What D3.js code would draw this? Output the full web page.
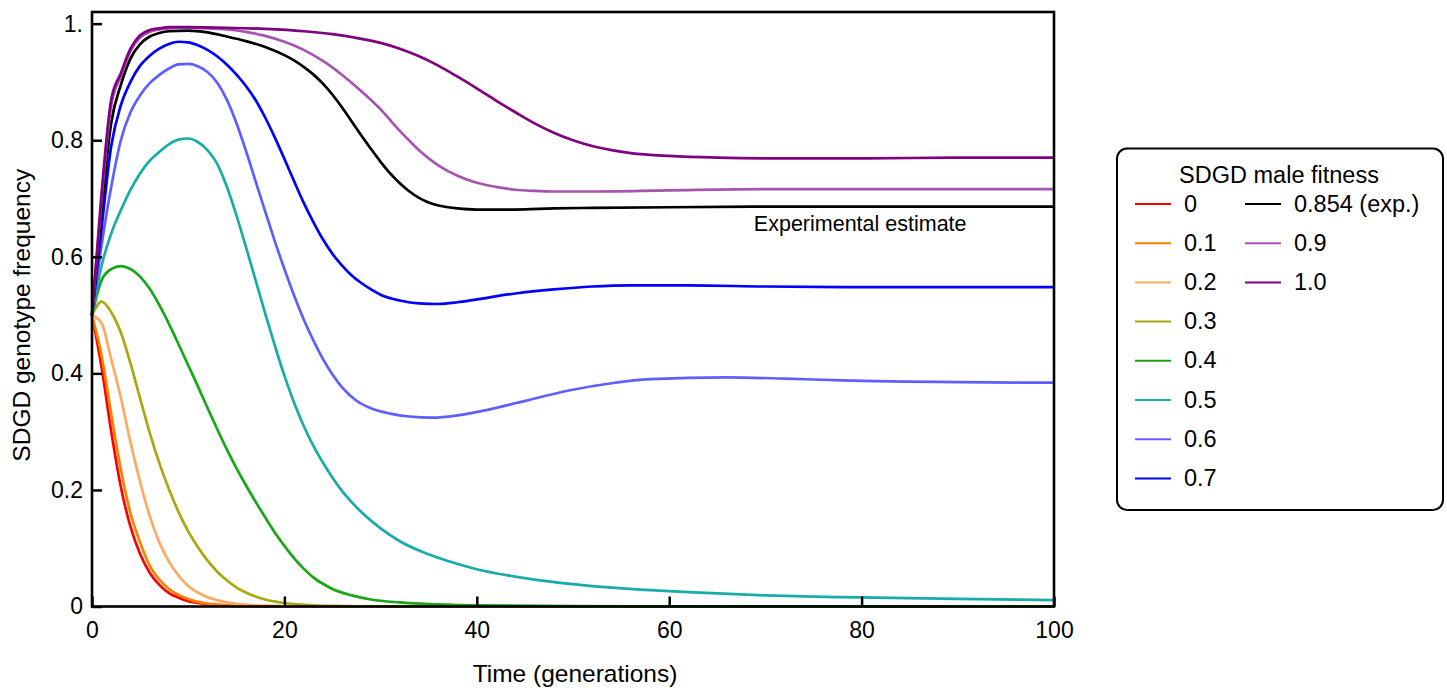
<!DOCTYPE html>
<html>
<head>
<meta charset="utf-8">
<script src="https://cdn.jsdelivr.net/npm/d3@7"></script>
<style>
  html, body { margin: 0; padding: 0; background: #fff; }
  svg { display: block; font-family: "Liberation Sans", Arial, sans-serif; }
</style>
</head>
<body>
<svg id="chart" width="1447" height="692"></svg>
<script>
// SDGD genotype frequency over time, one series per SDGD male fitness value.
// Each series is a list of [generation, frequency] pairs.
const fit0 = [[0,.5],[1,.41],[2,.30],[3,.205],[4,.137],[5,.09],[6,.058],[7,.037],[8,.023],[9,.015],[10,.009],[11,.006],[12,.004],[14,.0015],[16,.0006],[20,.0001],[30,0],[100,0]];
const fit01 = [[0,.5],[1,.43],[2,.33],[3,.235],[4,.16],[5,.11],[6,.07],[7,.046],[8,.03],[9,.02],[10,.013],[11,.008],[12,.005],[14,.002],[16,.001],[20,.0002],[30,0],[100,0]];
const fit02 = [[0,.5],[1,.486],[2,.424],[3,.358],[4,.282],[5,.214],[6,.155],[7,.11],[8,.077],[9,.053],[10,.035],[11,.024],[12,.016],[13,.011],[14,.007],[16,.003],[18,.0015],[20,.0007],[25,.0001],[30,0],[100,0]];
const fit03 = [[0,.5],[1,.523],[2,.505],[3,.47],[4,.417],[5,.357],[6,.298],[7,.246],[8,.201],[9,.162],[10,.129],[11,.102],[12,.079],[13,.06],[14,.045],[15,.033],[16,.024],[17,.017],[18,.012],[20,.006],[22,.003],[25,.001],[30,0],[100,0]];
const fit04 = [[0,.5],[1,.56],[2,.579],[3,.584],[4,.579],[5,.566],[6,.545],[7,.517],[8,.485],[9,.45],[10,.414],[11,.378],[12,.341],[13,.305],[14,.27],[15,.238],[16,.208],[17,.18],[18,.153],[19,.127],[20,.104],[21,.083],[22,.065],[23,.05],[24,.039],[25,.03],[27,.019],[29,.012],[32,.007],[35,.004],[40,.002],[50,.0008],[60,.0003],[100,0]];
const fit05 = [[0,.5],[1,.585],[2,.64],[3,.68],[4,.715],[5,.743],[6,.765],[7,.78],[8,.793],[9,.801],[10,.803],[11,.797],[12,.783],[13,.76],[14,.721],[15,.672],[16,.617],[17,.56],[18,.503],[19,.448],[20,.396],[21,.35],[22,.31],[23,.276],[24,.247],[25,.221],[26,.198],[27,.179],[28,.162],[30,.134],[32,.112],[34,.096],[37,.078],[40,.064],[43,.054],[46,.046],[52,.035],[57,.029],[62,.0245],[70,.019],[78,.016],[90,.013],[100,.011]];
const fit06 = [[0,.5],[1,.62],[2,.72],[3,.80],[4,.848],[5,.877],[6,.898],[7,.912],[8,.923],[9,.93],[10,.931],[11,.927],[12,.917],[13,.899],[14,.87],[15,.83],[16,.782],[17,.73],[18,.678],[19,.627],[20,.579],[21,.534],[22,.493],[23,.457],[24,.425],[25,.398],[26,.376],[27.5,.353],[29,.34],[31,.331],[33,.326],[35.4,.324],[38,.328],[41,.337],[44.6,.351],[49.7,.371],[54,.383],[58,.39],[66,.393],[72,.391],[78,.388],[90,.385],[100,.384]];
const fit07 = [[0,.5],[1,.65],[2,.79],[3,.86],[4,.90],[5,.928],[6,.945],[7,.957],[8,.965],[9,.969],[10,.968],[11,.963],[12,.955],[13,.944],[14,.93],[15,.913],[16,.893],[17,.869],[18,.839],[19,.805],[20,.768],[21,.73],[22,.693],[23,.66],[24,.63],[25,.605],[26,.585],[27,.568],[28,.555],[29,.544],[30,.535],[32,.525],[34,.52],[36,.519],[38,.522],[40,.527],[44,.537],[48,.544],[52,.549],[56,.551],[62,.551],[70,.549],[80,.548],[100,.548]];
const fitExp = [[0,.5],[1,.68],[2,.83],[3,.895],[4,.94],[5,.965],[6,.978],[7,.984],[8,.987],[10,.988],[12,.985],[14,.978],[16,.97],[18,.96],[20,.946],[21,.937],[22,.926],[23,.913],[24,.897],[25,.878],[26,.856],[27,.832],[28,.808],[29,.785],[30,.763],[31,.743],[32,.726],[33,.712],[34,.701],[35,.693],[36,.688],[37,.685],[38,.683],[40,.681],[44,.681],[48,.683],[52,.684],[60,.685],[70,.686],[100,.686]];
const fit09 = [[0,.5],[1,.70],[2,.86],[3,.91],[4,.953],[5,.976],[6,.986],[7,.99],[8,.992],[10,.993],[12,.992],[14,.99],[16,.986],[18,.979],[20,.969],[22,.955],[24,.936],[26,.912],[28,.884],[30,.853],[32,.816],[34,.783],[36,.757],[38,.739],[40,.727],[42,.72],[44,.715],[46,.713],[48,.712],[52,.712],[60,.714],[70,.716],[80,.716],[100,.716]];
const fit10 = [[0,.5],[1,.71],[2,.87],[3,.915],[4,.957],[5,.98],[6,.989],[7,.992],[8,.994],[10,.994],[14,.993],[18,.991],[22,.987],[25,.982],[28,.974],[30,.967],[32,.957],[34,.944],[36,.928],[38,.909],[40,.889],[42,.868],[44,.848],[46,.829],[48,.813],[50,.80],[52,.79],[54,.783],[56,.778],[60,.773],[65,.77],[70,.769],[80,.769],[90,.77],[100,.77]];

const seriesLabels = ["0", "0.1", "0.2", "0.3", "0.4", "0.5", "0.6", "0.7", "0.854 (exp.)", "0.9", "1.0"];
const seriesValues = [fit0, fit01, fit02, fit03, fit04, fit05, fit06, fit07, fitExp, fit09, fit10];
const seriesColors = ["#ff0000", "#ff8000", "#ffaa5e", "#a8a810", "#16a816", "#18abab", "#5f5fff", "#0000ff", "#000000", "#a654b0", "#800080"];

const xTicks = [0, 20, 40, 60, 80, 100];
const yTicks = [0, 0.2, 0.4, 0.6, 0.8, 1.0];
const yTickLabels = ["0", "0.2", "0.4", "0.6", "0.8", "1."];

const xTitle = "Time (generations)";
const yTitle = "SDGD genotype frequency";
const legendTitle = "SDGD male fitness";
const annotation = "Experimental estimate";

// Plot geometry
const plotLeft = 92, plotRight = 1054, plotTop = 12, plotBottom = 606.5;

const svg = d3.select("#chart");
const x = d3.scaleLinear().domain([0, 100]).range([plotLeft, plotRight]);
const y = d3.scaleLinear().domain([0, 1.02]).range([plotBottom, plotTop]);

// Curves
const line = d3.line()
  .x(d => x(d[0]))
  .y(d => y(d[1]))
  .curve(d3.curveMonotoneX);

svg.append("g")
  .selectAll("path")
  .data(seriesValues)
  .join("path")
  .attr("d", line)
  .attr("fill", "none")
  .attr("stroke", (d, i) => seriesColors[i])
  .attr("stroke-width", 2.7)
  .attr("stroke-linejoin", "round");

// Axes with inward ticks
const xAxis = d3.axisBottom(x)
  .tickValues(xTicks)
  .tickSizeInner(-10)
  .tickSizeOuter(0)
  .tickPadding(15)
  .tickFormat(d3.format("d"));

const yAxis = d3.axisLeft(y)
  .tickValues(yTicks)
  .tickSizeInner(-10)
  .tickSizeOuter(0)
  .tickPadding(9)
  .tickFormat((d, i) => yTickLabels[i]);

const gx = svg.append("g").attr("transform", `translate(0,${plotBottom})`).call(xAxis);
const gy = svg.append("g").attr("transform", `translate(${plotLeft},0)`).call(yAxis);

[gx, gy].forEach(g => {
  g.select(".domain").remove();
  g.selectAll(".tick line").attr("stroke", "#000").attr("stroke-width", 2.5);
  g.selectAll(".tick text")
    .attr("fill", "#000")
    .style("font-size", "23px")
    .style("font-family", "'Liberation Sans', Arial, sans-serif");
});

// Frame around the plot area
svg.append("rect")
  .attr("x", plotLeft)
  .attr("y", plotTop)
  .attr("width", plotRight - plotLeft)
  .attr("height", plotBottom - plotTop)
  .attr("fill", "none")
  .attr("stroke", "#000")
  .attr("stroke-width", 2.6);

// Axis titles
svg.append("text")
  .attr("x", (plotLeft + plotRight) / 2 + 2)
  .attr("y", 682)
  .attr("text-anchor", "middle")
  .style("font-size", "24.5px")
  .text(xTitle);

svg.append("text")
  .attr("transform", `translate(30,${(plotTop + plotBottom) / 2 + 6}) rotate(-90)`)
  .attr("text-anchor", "middle")
  .style("font-size", "24.5px")
  .text(yTitle);

// Annotation under the experimental-estimate curve
svg.append("text")
  .attr("x", x(68.8))
  .attr("y", 231)
  .style("font-size", "21.5px")
  .text(annotation);

// Legend
const lg = svg.append("g");
lg.append("rect")
  .attr("x", 1117)
  .attr("y", 148.5)
  .attr("width", 326)
  .attr("height", 361.5)
  .attr("rx", 10)
  .attr("ry", 10)
  .attr("fill", "#fff")
  .attr("stroke", "#000")
  .attr("stroke-width", 2);

lg.append("text")
  .attr("x", 1279)
  .attr("y", 183)
  .attr("text-anchor", "middle")
  .style("font-size", "23.5px")
  .text(legendTitle);

const rowsPerCol = 8;
const items = lg.selectAll("g.item")
  .data(seriesLabels)
  .join("g")
  .attr("class", "item")
  .attr("transform", (d, i) => {
    const col = Math.floor(i / rowsPerCol);
    const row = i % rowsPerCol;
    return `translate(${1135 + col * 110},${204 + row * 39.2})`;
  });

items.append("line")
  .attr("x1", 0).attr("x2", 36)
  .attr("y1", 0).attr("y2", 0)
  .attr("stroke", (d, i) => seriesColors[i])
  .attr("stroke-width", 2);

items.append("text")
  .attr("x", 49)
  .attr("y", 7.5)
  .style("font-size", "23.5px")
  .text(d => d);
</script>
</body>
</html>
